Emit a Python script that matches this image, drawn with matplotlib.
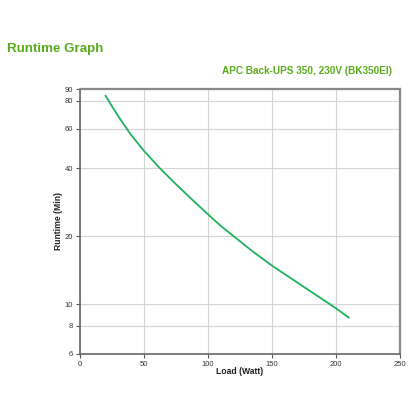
import matplotlib
matplotlib.use("Agg")
import matplotlib.pyplot as plt
from matplotlib.ticker import FixedLocator, NullLocator

load_w = [20, 25, 30, 36.5, 39.6, 50, 62.5, 75, 87.5, 100, 110, 120, 135, 150, 175, 195, 200, 210]
runtime_min = [84, 75.4, 68, 60, 56.6, 47.8, 40, 34, 29.1, 25, 22.2, 20, 17.1, 14.8, 11.9, 10, 9.57, 8.7]

x_ticks = [0, 50, 100, 150, 200, 250]
y_ticks = [6, 8, 10, 20, 40, 60, 80, 90]

title_text = "Runtime Graph"
subtitle_text = "APC Back-UPS 350, 230V (BK350EI)"
x_label = "Load (Watt)"
y_label = "Runtime (Min)"

plt.rcParams['font.family'] = ['Liberation Sans', 'DejaVu Sans']

fig = plt.figure(figsize=(4.16, 4.16), dpi=100)
ax = fig.add_axes([80/416, 1-354/416, 320/416, 265/416])

ax.plot(load_w, runtime_min, color='#1fb25a', linewidth=1.3, solid_joinstyle='round')
ax.set_yscale('log')
ax.set_xlim(0, 250)
ax.set_ylim(6, 90)
ax.xaxis.set_major_locator(FixedLocator(x_ticks))
ax.yaxis.set_major_locator(FixedLocator(y_ticks))
ax.xaxis.set_minor_locator(NullLocator())
ax.yaxis.set_minor_locator(NullLocator())
ax.set_xticklabels([str(t) for t in x_ticks])
ax.set_yticklabels([str(t) for t in y_ticks])
ax.tick_params(axis='both', labelsize=5.5, length=3, width=0.8, color='#555555', labelcolor='#333333', pad=2)
ax.grid(True, color='#d4d4d4', linewidth=0.8)
ax.set_axisbelow(True)
for s in ['left', 'bottom']:
    ax.spines[s].set_color('#666666')
    ax.spines[s].set_linewidth(1.2)
for s in ['top', 'right']:
    ax.spines[s].set_color('#888888')
    ax.spines[s].set_linewidth(1.6)

ax.set_xlabel(x_label, fontsize=6.2, fontweight='bold', color='#222222')
ax.set_ylabel(y_label, fontsize=6.2, fontweight='bold', color='#222222')
ax.yaxis.set_label_coords(-0.052, 0.5)
ax.xaxis.set_label_coords(0.5, -(367 - 354) / 265)

fig.text(7/416, 1-52/416, title_text, fontsize=9.6, fontweight='bold', color='#5aab1c', ha='left', va='baseline')
fig.text(392/416, 1-74/416, subtitle_text, fontsize=7.2, fontweight='bold', color='#5aab1c', ha='right', va='baseline')

fig.savefig('out.png', dpi=100, facecolor='white')
